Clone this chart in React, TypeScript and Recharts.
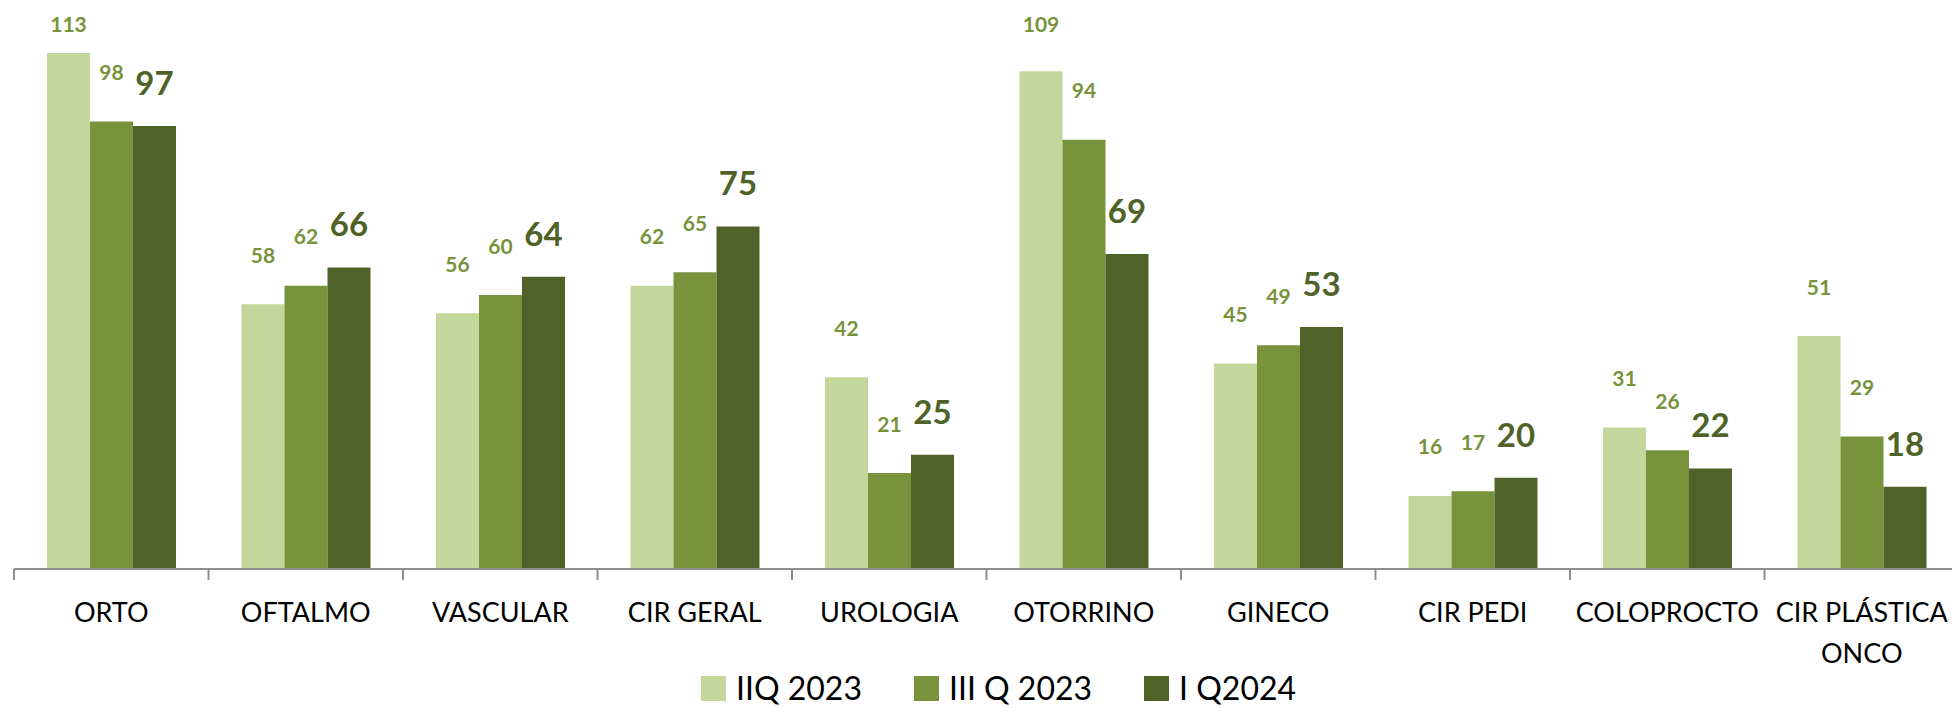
import { BarChart, Bar, XAxis, YAxis, Legend, LabelList } from "recharts";

const categories = [
  "ORTO",
  "OFTALMO",
  "VASCULAR",
  "CIR GERAL",
  "UROLOGIA",
  "OTORRINO",
  "GINECO",
  "CIR PEDI",
  "COLOPROCTO",
  "CIR PLÁSTICA ONCO",
];
const q2_2023 = [113, 58, 56, 62, 42, 109, 45, 16, 31, 51];
const q3_2023 = [98, 62, 60, 65, 21, 94, 49, 17, 26, 29];
const q1_2024 = [97, 66, 64, 75, 25, 69, 53, 20, 22, 18];

const seriesNames = ["IIQ 2023", "III Q 2023", "I Q2024"];
const colors = ["#C3D69B", "#77933C", "#4F6228"];

const data = categories.map((name, i) => ({
  name,
  q2: q2_2023[i],
  q3: q3_2023[i],
  q1: q1_2024[i],
}));

const FONT = "Lato, 'Open Sans', sans-serif";
const CHART_W = 1970;
const CHART_H = 708;
const AXIS_H = 139;
const AXIS_Y = CHART_H - AXIS_H;
const BAND = (CHART_W - 14 - 11) / categories.length;

// greedy word wrap, roughly what fits in one category band
const wrap = (s: string, maxChars = 13) => {
  const lines: string[] = [];
  let cur = "";
  s.split(" ").forEach((w) => {
    const next = cur ? cur + " " + w : w;
    if (next.length > maxChars && cur) {
      lines.push(cur);
      cur = w;
    } else {
      cur = next;
    }
  });
  if (cur) lines.push(cur);
  return lines;
};

// small olive labels for the two 2023 quarters, big dark ones for 2024
const smallLabel = (props: any) => {
  const { x, y, width, value } = props;
  const cy = Math.max(y - 49, 24);
  return (
    <text
      x={x + width / 2}
      y={cy}
      dy="0.36em"
      textAnchor="middle"
      fill="#77933C"
      fontFamily={FONT}
      fontSize={21}
      fontWeight={700}
    >
      {value}
    </text>
  );
};

const bigLabel = (props: any) => {
  const { x, y, width, value } = props;
  return (
    <text
      x={x + width / 2}
      y={y - 43}
      dy="0.36em"
      textAnchor="middle"
      fill="#4F6228"
      fontFamily={FONT}
      fontSize={33}
      fontWeight={700}
    >
      {value}
    </text>
  );
};

const CategoryTick = (props: any) => {
  const { x, payload } = props;
  const left = x - BAND / 2;
  const lines = wrap(String(payload.value));
  return (
    <g>
      <line x1={left} y1={AXIS_Y} x2={left} y2={AXIS_Y + 11} stroke="#8E8E8E" strokeWidth={2} />
      <text x={x} y={AXIS_Y + 53} textAnchor="middle" fill="#000" fontFamily={FONT} fontSize={27}>
        {lines.map((l, i) => (
          <tspan key={i} x={x} dy={i === 0 ? 0 : 41}>
            {l}
          </tspan>
        ))}
      </text>
    </g>
  );
};

const LegendBox = () => (
  <div style={{ display: "flex", alignItems: "center", fontFamily: FONT, fontSize: 32, color: "#000" }}>
    {seriesNames.map((n, i) => (
      <div key={n} style={{ display: "flex", alignItems: "center", marginRight: 52 }}>
        <div style={{ width: 25, height: 25, background: colors[i], marginRight: 10 }} />
        <span style={{ lineHeight: "34px", whiteSpace: "nowrap" }}>{n}</span>
      </div>
    ))}
  </div>
);

export default function App() {
  return (
    <div
      style={{
        position: "absolute",
        left: 0,
        top: 0,
        width: 1952,
        height: 708,
        overflow: "hidden",
        background: "#fff",
      }}
    >
      <BarChart
        width={CHART_W}
        height={CHART_H}
        data={data}
        margin={{ top: 21, right: 11, left: 14, bottom: 0 }}
        barCategoryGap={33}
        barGap={0}
      >
        <XAxis
          dataKey="name"
          interval={0}
          height={AXIS_H}
          axisLine={{ stroke: "#8E8E8E", strokeWidth: 2 }}
          tickLine={false}
          tick={<CategoryTick />}
        />
        <YAxis hide domain={[0, 120]} />
        <Legend
          verticalAlign="middle"
          align="center"
          content={<LegendBox />}
          wrapperStyle={{ left: 701, top: 671, width: 800, height: 34 }}
        />
        <Bar dataKey="q2" name={seriesNames[0]} fill={colors[0]} isAnimationActive={false}>
          <LabelList dataKey="q2" content={smallLabel} />
        </Bar>
        <Bar dataKey="q3" name={seriesNames[1]} fill={colors[1]} isAnimationActive={false}>
          <LabelList dataKey="q3" content={smallLabel} />
        </Bar>
        <Bar dataKey="q1" name={seriesNames[2]} fill={colors[2]} isAnimationActive={false}>
          <LabelList dataKey="q1" content={bigLabel} />
        </Bar>
      </BarChart>
    </div>
  );
}
